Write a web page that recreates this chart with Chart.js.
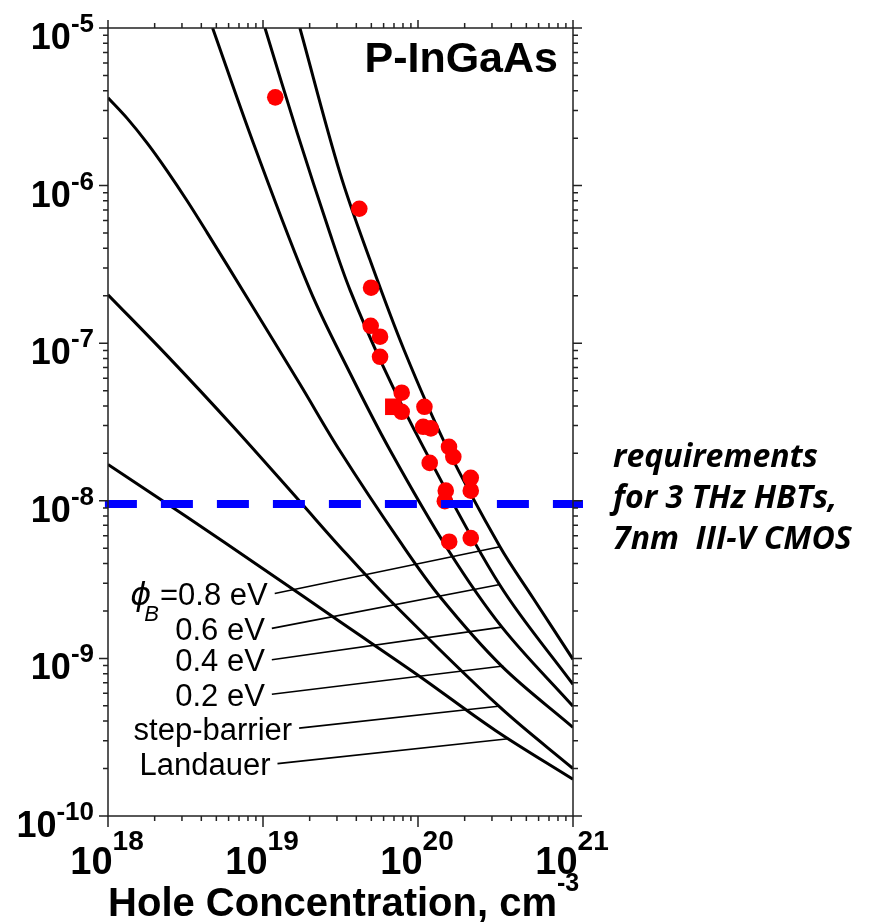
<!DOCTYPE html>
<html>
<head>
<meta charset="utf-8">
<script src="https://cdn.jsdelivr.net/npm/chart.js@4.4.1/dist/chart.umd.min.js"></script>
<style>
  html, body { margin: 0; padding: 0; background: #fff; }
  canvas { display: block; }
</style>
</head>
<body>
<canvas id="chart" width="873" height="922"></canvas>
<script>
// model curves: hole concentration (cm^-3) vs value
const landauerX = [1e18, 3.16e18, 1e19, 3.16e19, 1e20, 3.16e20, 1e21];
const landauerY = [1.70e-8, 8.0e-9, 3.71e-9, 1.70e-9, 7.82e-10, 3.49e-10, 1.71e-10];

const stepX = [1e18, 2.39e18, 6.43e18, 1.73e19, 3.14e19, 6.59e19, 3.38e20, 1e21];
const stepY = [2.03e-7, 8.4e-8, 2.95e-8, 9.9e-9, 5.1e-9, 2.34e-9, 4.9e-10, 2.0e-10];

const ev02X = [1e18, 1.33e18, 1.79e18, 2.40e18, 3.23e18, 4.35e18, 7.89e18, 1.73e19, 3.14e19, 7.66e19, 1.39e20, 3.48e20, 1e21];
const ev02Y = [3.61e-6, 2.67e-6, 1.86e-6, 1.245e-6, 8.04e-7, 5.05e-7, 1.95e-7, 5.51e-8, 2.07e-8, 5.50e-9, 2.45e-9, 8.9e-10, 3.65e-10];

const ev04X = [4.73e18, 8.65e18, 2.01e19, 3.64e19, 6.59e19, 1.57e20, 3.48e20, 1e21];
const ev04Y = [1e-5, 1.87e-6, 2.18e-7, 6.47e-8, 2.1e-8, 4.86e-9, 1.58e-9, 4.97e-10];

const ev06X = [1.03e19, 1.66e19, 2.70e19, 3.64e19, 5.97e19, 1.08e20, 3.38e20, 1e21];
const ev06Y = [1e-5, 2.17e-6, 5.0e-7, 2.18e-7, 7.1e-8, 2.2e-8, 2.91e-9, 6.84e-10];

const ev08X = [1.73e19, 3.14e19, 4.90e19, 8.13e19, 1.53e20, 3.38e20, 5.55e20, 1e21];
const ev08Y = [1e-5, 1.20e-6, 3.38e-7, 9.06e-8, 2.20e-8, 5.11e-9, 2.40e-9, 9.86e-10];

// measured samples (red dots) and the one square sample
const measX = [1.2e19, 4.18e19, 4.98e19, 4.95e19, 5.69e19, 5.69e19, 7.85e19, 7.85e19, 1.10e20, 1.08e20, 1.21e20,
               1.585e20, 1.69e20, 1.19e20, 2.19e20, 2.19e20, 1.51e20, 1.49e20, 1.59e20, 2.19e20];
const measY = [3.63e-6, 7.13e-7, 2.25e-7, 1.29e-7, 1.10e-7, 8.2e-8, 4.85e-8, 3.67e-8, 3.95e-8, 2.95e-8, 2.88e-8,
               2.2e-8, 1.9e-8, 1.74e-8, 1.40e-8, 1.16e-8, 1.16e-8, 9.95e-9, 5.5e-9, 5.8e-9];
const squareX = [6.93e19];
const squareY = [3.95e-8];

// requirement level (dashed blue)
const reqX = [9.55e17, 1.16e21];
const reqY = [9.55e-9, 9.55e-9];

// curve labels with leader lines: [start, end] points
const labelNames = ["0.8 eV", "0.6 eV", "0.4 eV", "0.2 eV", "step-barrier", "Landauer"];
const leaderX = [[1.19e19, 3.38e20], [1.14e19, 3.38e20], [1.14e19, 3.47e20], [1.14e19, 3.55e20], [1.71e19, 3.30e20], [1.24e19, 3.83e20]];
const leaderY = [[2.58e-9, 5.11e-9], [1.55e-9, 2.94e-9], [9.8e-10, 1.58e-9], [5.92e-10, 8.95e-10], [3.61e-10, 4.97e-10], [2.15e-10, 3.09e-10]];

// axis tick labels (powers of ten)
const xTickExps = [18, 19, 20, 21];
const yTickExps = [-10, -9, -8, -7, -6, -5];
const noteLines = ["requirements", "for 3 THz HBTs,", "7nm  III-V CMOS"];

function pts(xs, ys) {
  return xs.map(function (x, i) { return { x: x, y: ys[i] }; });
}

const curveSets = [[landauerX, landauerY], [stepX, stepY], [ev02X, ev02Y], [ev04X, ev04Y], [ev06X, ev06Y], [ev08X, ev08Y]];

const datasets = [];
datasets.push({
  data: pts(reqX, reqY), borderColor: "#0000ff", borderWidth: 8, borderDash: [32, 24],
  borderCapStyle: "butt", pointRadius: 0, clip: false, order: 0
});
datasets.push({
  data: pts(measX, measY), showLine: false, pointRadius: 8.3, pointBackgroundColor: "#ff0000",
  pointBorderWidth: 0, order: 1
});
datasets.push({
  data: pts(squareX, squareY), showLine: false, pointStyle: "rect", pointRadius: 11.7,
  pointBackgroundColor: "#ff0000", pointBorderWidth: 0, order: 1
});
curveSets.forEach(function (c) {
  datasets.push({
    data: pts(c[0], c[1]), borderColor: "#000", borderWidth: 3, pointRadius: 0,
    tension: 0.35, order: 2
  });
});
leaderX.forEach(function (lx, i) {
  datasets.push({
    data: pts(lx, leaderY[i]), borderColor: "#000", borderWidth: 1.6, pointRadius: 0, order: 3
  });
});

function drawPow(ctx, x, baseline, align, mainFont, supFont, raise, exp) {
  ctx.font = mainFont;
  const wm = ctx.measureText("10").width;
  ctx.font = supFont;
  const ws = ctx.measureText(exp).width;
  let start = align === "right" ? x - wm - ws : x - (wm + ws) / 2;
  ctx.textAlign = "left";
  ctx.font = mainFont;
  ctx.fillText("10", start, baseline);
  ctx.font = supFont;
  ctx.fillText(exp, start + wm, baseline - raise);
}

const decor = {
  id: "decor",
  afterDatasetsDraw(chart) {
    const ctx = chart.ctx;
    const xs = chart.scales.x, ys = chart.scales.y;
    const a = chart.chartArea;
    ctx.save();
    ctx.strokeStyle = "#222";
    ctx.lineWidth = 1.5;
    ctx.strokeRect(a.left, a.top, a.right - a.left, a.bottom - a.top);

    // tick marks on all four sides
    ctx.beginPath();
    for (let e = xTickExps[0]; e <= xTickExps[xTickExps.length - 1]; e++) {
      for (let k = 1; k <= 9; k++) {
        if (e === xTickExps[xTickExps.length - 1] && k > 1) break;
        const px = xs.getPixelForValue(k * Math.pow(10, e));
        const major = k === 1;
        ctx.moveTo(px, a.bottom); ctx.lineTo(px, a.bottom + (major ? 11 : 5));
        ctx.moveTo(px, a.top); ctx.lineTo(px, a.top - (major ? 8 : 5));
      }
    }
    for (let e = yTickExps[0]; e <= yTickExps[yTickExps.length - 1]; e++) {
      for (let k = 1; k <= 9; k++) {
        if (e === yTickExps[yTickExps.length - 1] && k > 1) break;
        const py = ys.getPixelForValue(k * Math.pow(10, e));
        const major = k === 1;
        ctx.moveTo(a.left, py); ctx.lineTo(a.left - (major ? 9 : 5), py);
        ctx.moveTo(a.right, py); ctx.lineTo(a.right + (major ? 9 : 5), py);
      }
    }
    ctx.stroke();

    ctx.fillStyle = "#000";
    ctx.textBaseline = "alphabetic";
    xTickExps.forEach(function (e) {
      const px = xs.getPixelForValue(Math.pow(10, e));
      drawPow(ctx, px - 1, 874, "center", "bold 38px 'Liberation Sans', Arial", "bold 28px 'Liberation Sans', Arial", 24, String(e));
    });
    yTickExps.forEach(function (e) {
      const py = ys.getPixelForValue(Math.pow(10, e));
      drawPow(ctx, 94, py + 21, "right", "bold 36px 'Liberation Sans', Arial", "bold 26px 'Liberation Sans', Arial", 17, String(e));
    });

    // axis title
    ctx.font = "bold 40px 'Liberation Sans', Arial";
    ctx.textAlign = "left";
    const title = "Hole Concentration, cm";
    const tw = ctx.measureText(title).width;
    const tx = 557 - tw;
    ctx.fillText(title, tx, 916);
    ctx.font = "bold 25px 'Liberation Sans', Arial";
    ctx.fillText("-3", tx + tw, 891);

    // panel name
    ctx.font = "bold 43px 'Liberation Sans', Arial";
    ctx.textAlign = "right";
    ctx.fillText("P-InGaAs", 558, 72);

    // curve labels
    labelNames.forEach(function (name, i) {
      const sx = xs.getPixelForValue(leaderX[i][0]);
      const sy = ys.getPixelForValue(leaderY[i][0]);
      const rx = sx - 7, by = sy + 11.5;
      ctx.font = "31px 'Liberation Sans', Arial";
      ctx.textAlign = "right";
      if (i === 0) {
        const txt = "=" + name;
        ctx.fillText(txt, rx, by);
        const w = ctx.measureText(txt).width;
        ctx.font = "italic 22px 'Liberation Sans', Arial";
        const wb = ctx.measureText("B").width;
        ctx.textAlign = "left";
        ctx.fillText("B", rx - w - wb - 1, by + 16);
        ctx.font = "italic 32px 'DejaVu Sans', 'Liberation Sans'";
        ctx.textAlign = "right";
        ctx.fillText("\u03D5", rx - w - wb + 6, by);
      } else {
        ctx.fillText(name, rx, by);
      }
    });

    // requirement note
    ctx.font = "italic bold 32px 'Open Sans', Lato, sans-serif";
    ctx.textAlign = "left";
    noteLines.forEach(function (t, i) {
      ctx.fillText(t, 613, 467 + i * 41);
    });
    ctx.restore();
  }
};

new Chart(document.getElementById("chart").getContext("2d"), {
  type: "line",
  data: { datasets: datasets },
  options: {
    responsive: false,
    animation: false,
    layout: { padding: { left: 108, right: 300, top: 28, bottom: 106 } },
    plugins: { legend: { display: false }, tooltip: { enabled: false } },
    scales: {
      x: { type: "logarithmic", min: 1e18, max: 1e21, display: false },
      y: { type: "logarithmic", min: 1e-10, max: 1e-5, display: false }
    }
  },
  plugins: [decor]
});
</script>
</body>
</html>
